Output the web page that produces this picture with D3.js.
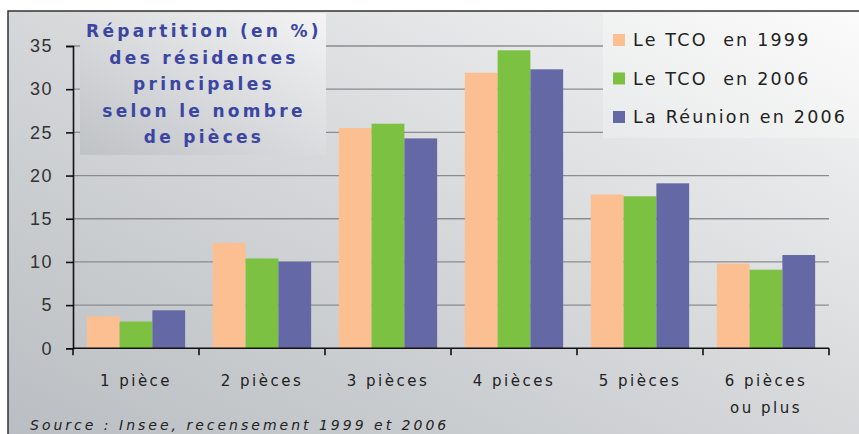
<!DOCTYPE html>
<html lang="fr">
<head>
<meta charset="utf-8">
<title>Répartition des résidences principales</title>
<script src="https://d3js.org/d3.v7.min.js"></script>
<style>
  body { margin: 0; background: #fff; }
  svg { display: block; font-family: "DejaVu Sans", Verdana, sans-serif; }
  .ytick text { font-size: 18px; fill: #333; letter-spacing: 1.5px; }
  .xlab { font-size: 15px; fill: #222; letter-spacing: 2.5px; }
  .legend text { font-size: 17.5px; fill: #222; letter-spacing: 2.2px; white-space: pre; }
  .title text { font-size: 17px; font-weight: bold; fill: #3b46a3; letter-spacing: 3.3px; }
</style>
</head>
<body>
<svg id="chart" width="859" height="434"></svg>
<script>
// données
var categories = ['1 pièce', '2 pièces', '3 pièces', '4 pièces', '5 pièces', '6 pièces\nou plus'];
var seriesNames = ['Le TCO  en 1999', 'Le TCO  en 2006', 'La Réunion en 2006'];
var tco1999 = [3.7, 12.2, 25.5, 31.9, 17.8, 9.8];
var tco2006 = [3.1, 10.4, 26.0, 34.5, 17.6, 9.1];
var reunion2006 = [4.4, 10.0, 24.3, 32.3, 19.1, 10.8];
var yTicks = [0, 5, 10, 15, 20, 25, 30, 35];
var colors = ['#fbbf91', '#7cc142', '#6468a5'];
var titleLines = ['Répartition (en %)', 'des résidences', 'principales', 'selon le nombre', 'de pièces'];

var series = [tco1999, tco2006, reunion2006];
var svg = d3.select('#chart');
var defs = svg.append('defs');

var bg = defs.append('linearGradient').attr('id', 'bg')
  .attr('x1', '0%').attr('y1', '100%').attr('x2', '100%').attr('y2', '0%');
bg.append('stop').attr('offset', '0%').attr('stop-color', '#b9bdc1');
bg.append('stop').attr('offset', '55%').attr('stop-color', '#d8dadc');
bg.append('stop').attr('offset', '100%').attr('stop-color', '#f7f7f7');

var tb = defs.append('linearGradient').attr('id', 'tb')
  .attr('x1', '0%').attr('y1', '100%').attr('x2', '100%').attr('y2', '0%');
tb.append('stop').attr('offset', '0%').attr('stop-color', '#bfc2c6');
tb.append('stop').attr('offset', '100%').attr('stop-color', '#f4f4f5');

var lg = defs.append('linearGradient').attr('id', 'lg')
  .attr('x1', '0%').attr('y1', '100%').attr('x2', '100%').attr('y2', '0%');
lg.append('stop').attr('offset', '0%').attr('stop-color', '#e9eaeb');
lg.append('stop').attr('offset', '100%').attr('stop-color', '#fbfbfb');

// fond et cadre
svg.append('rect').attr('x', 8).attr('y', 11).attr('width', 860).attr('height', 440)
  .attr('fill', 'url(#bg)').attr('stroke', '#333').attr('stroke-width', 1.5);

var x0 = d3.scaleBand().domain(categories).range([73, 829]).paddingInner(0.22).paddingOuter(0.11);
var x1 = d3.scaleBand().domain(d3.range(series.length)).range([0, x0.bandwidth()]);
var y = d3.scaleLinear().domain([0, 35]).range([348.3, 46]);

// grille
svg.append('g').selectAll('line').data(yTicks.slice(1)).enter().append('line')
  .attr('x1', 73).attr('x2', 829)
  .attr('y1', function(d) { return y(d); }).attr('y2', function(d) { return y(d); })
  .attr('stroke', '#8a8c8f').attr('stroke-width', 1.3);

// barres
series.forEach(function(vals, s) {
  svg.append('g').selectAll('rect').data(vals).enter().append('rect')
    .attr('x', function(d, i) { return x0(categories[i]) + x1(s); })
    .attr('width', x1.bandwidth())
    .attr('y', function(d) { return y(d); })
    .attr('height', function(d) { return y(0) - y(d); })
    .attr('fill', colors[s]);
});

// axe Y
var yAxis = svg.append('g').attr('class', 'ytick').attr('transform', 'translate(73,0)')
  .call(d3.axisLeft(y).tickValues(yTicks).tickSize(7).tickPadding(13));
yAxis.select('.domain').attr('stroke', '#111').attr('stroke-width', 1.6);
yAxis.selectAll('.tick line').attr('stroke', '#111').attr('stroke-width', 1.6);
yAxis.selectAll('text').attr('fill', '#333');

// axe X
var xEdges = categories.map(function(c) { return x0(c) - x0.step() * x0.paddingInner() / 2; });
xEdges.push(829);
var xAxis = svg.append('g');
xAxis.append('line').attr('x1', 73).attr('x2', 829).attr('y1', y(0)).attr('y2', y(0))
  .attr('stroke', '#111').attr('stroke-width', 1.6);
xAxis.selectAll('line.t').data(xEdges).enter().append('line').attr('class', 't')
  .attr('x1', function(d) { return d; }).attr('x2', function(d) { return d; })
  .attr('y1', y(0)).attr('y2', y(0) + 7)
  .attr('stroke', '#111').attr('stroke-width', 1.6);

categories.forEach(function(c) {
  var t = svg.append('text').attr('class', 'xlab').attr('text-anchor', 'middle')
    .attr('x', x0(c) + x0.bandwidth() / 2).attr('y', 386);
  c.split('\n').forEach(function(line, k) {
    t.append('tspan').attr('x', x0(c) + x0.bandwidth() / 2).attr('dy', k ? 27 : 0).text(line);
  });
});

// titre
var title = svg.append('g').attr('class', 'title');
title.append('rect').attr('x', 80).attr('y', 13).attr('width', 246).attr('height', 142)
  .attr('fill', 'url(#tb)');
title.selectAll('text').data(titleLines).enter().append('text')
  .attr('x', 204).attr('y', function(d, i) { return 37 + i * 26.5; })
  .attr('text-anchor', 'middle').text(function(d) { return d; });

// légende
var legend = svg.append('g').attr('class', 'legend');
legend.append('rect').attr('x', 603).attr('y', 13).attr('width', 256).attr('height', 125)
  .attr('fill', 'url(#lg)');
seriesNames.forEach(function(n, i) {
  var ly = 40 + i * 38.5;
  legend.append('rect').attr('x', 613).attr('y', ly - 6).attr('width', 12).attr('height', 12)
    .attr('fill', colors[i]);
  legend.append('text').attr('x', 633).attr('y', ly + 6).text(n);
});

// source
svg.append('text').attr('x', 30).attr('y', 430)
  .attr('font-size', 14).attr('font-style', 'italic').attr('fill', '#222')
  .attr('letter-spacing', 3)
  .text('Source : Insee, recensement 1999 et 2006');
</script>
</body>
</html>
